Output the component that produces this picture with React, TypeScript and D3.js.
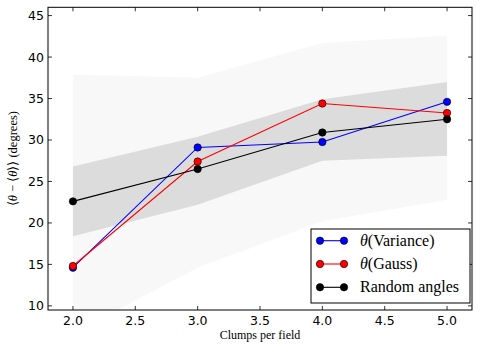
import React, { useRef, useEffect } from "react";
import * as d3 from "d3";

// clumps per field and the three measured series
const clumps = [2, 3, 4, 5];
const variance = [14.6, 29.1, 29.75, 34.6];
const gauss = [14.8, 27.4, 34.4, 33.25];
const randomAngles = [22.6, 26.5, 30.9, 32.5];

// spread of random angles (1 and 2 sigma)
const oneSigmaLow = [18.4, 22.2, 27.5, 28.1];
const oneSigmaHigh = [26.8, 30.4, 34.9, 37.0];
const twoSigmaLow = [6.7, 14.6, 20.2, 22.8];
const twoSigmaHigh = [37.9, 37.5, 41.7, 42.6];

const xTicks = [2.0, 2.5, 3.0, 3.5, 4.0, 4.5, 5.0];
const yTicks = [10, 15, 20, 25, 30, 35, 40, 45];

const series = [
  { name: "Variance", theta: true, values: variance, color: "#0000ff" },
  { name: "Gauss", theta: true, values: gauss, color: "#ff0000" },
  { name: "Random angles", theta: false, values: randomAngles, color: "#000000" },
];

const W = 480;
const H = 352;
const left = 48;
const right = 472;
const top = 7.3;
const bottom = 310;

const App = () => {
  const svgRef = useRef<SVGSVGElement>(null);

  useEffect(() => {
    const svg = d3.select(svgRef.current);
    svg.selectAll("*").remove();

    const x = d3.scaleLinear().domain([1.8, 5.2]).range([left, right]);
    const y = d3.scaleLinear().domain([9.5, 46]).range([bottom, top]);

    svg
      .append("defs")
      .append("clipPath")
      .attr("id", "plot-clip")
      .append("rect")
      .attr("x", left)
      .attr("y", top)
      .attr("width", right - left)
      .attr("height", bottom - top);

    const plot = svg.append("g").attr("clip-path", "url(#plot-clip)");

    const band = (lo: number[], hi: number[]) =>
      d3
        .area<number>()
        .x((d) => x(d))
        .y0((d, i) => y(lo[i]))
        .y1((d, i) => y(hi[i]))(clumps);

    plot.append("path").attr("d", band(twoSigmaLow, twoSigmaHigh)).attr("fill", "#f8f8f8");
    plot.append("path").attr("d", band(oneSigmaLow, oneSigmaHigh)).attr("fill", "#dcdcdc");

    const line = (vals: number[]) =>
      d3
        .line<number>()
        .x((d) => x(d))
        .y((d, i) => y(vals[i]))(clumps);

    series.forEach((s) => {
      plot
        .append("path")
        .attr("d", line(s.values))
        .attr("fill", "none")
        .attr("stroke", s.color)
        .attr("stroke-width", 1.1);
      plot
        .selectAll(null)
        .data(clumps)
        .join("circle")
        .attr("cx", (d) => x(d))
        .attr("cy", (d, i) => y(s.values[i]))
        .attr("r", 3.7)
        .attr("fill", s.color)
        .attr("stroke", "#000")
        .attr("stroke-width", 0.6);
    });

    // ticks inside on all four sides
    const ticks = svg.append("g").attr("stroke", "#000").attr("stroke-width", 0.8);
    xTicks.forEach((t) => {
      ticks.append("line").attr("x1", x(t)).attr("x2", x(t)).attr("y1", bottom).attr("y2", bottom - 4);
      ticks.append("line").attr("x1", x(t)).attr("x2", x(t)).attr("y1", top).attr("y2", top + 4);
    });
    yTicks.forEach((t) => {
      ticks.append("line").attr("x1", left).attr("x2", left + 4).attr("y1", y(t)).attr("y2", y(t));
      ticks.append("line").attr("x1", right).attr("x2", right - 4).attr("y1", y(t)).attr("y2", y(t));
    });

    svg
      .append("rect")
      .attr("x", left)
      .attr("y", top)
      .attr("width", right - left)
      .attr("height", bottom - top)
      .attr("fill", "none")
      .attr("stroke", "#000")
      .attr("stroke-width", 1);

    const tickFont = "'DejaVu Sans', sans-serif";
    svg
      .append("g")
      .selectAll("text")
      .data(xTicks)
      .join("text")
      .attr("x", (d) => x(d))
      .attr("y", bottom + 14.5)
      .attr("text-anchor", "middle")
      .attr("font-family", tickFont)
      .attr("font-size", 12.5)
      .text((d) => d.toFixed(1));

    svg
      .append("g")
      .selectAll("text")
      .data(yTicks)
      .join("text")
      .attr("x", left - 4)
      .attr("y", (d) => y(d) + 4.5)
      .attr("text-anchor", "end")
      .attr("font-family", tickFont)
      .attr("font-size", 12.5)
      .text((d) => d);

    const serif = "'Liberation Serif', serif";
    svg
      .append("text")
      .attr("x", (left + right) / 2)
      .attr("y", 339)
      .attr("text-anchor", "middle")
      .attr("font-family", serif)
      .attr("font-size", 12)
      .text("Clumps per field");

    const ylab = svg
      .append("text")
      .attr("transform", `translate(17,${(top + bottom) / 2}) rotate(-90)`)
      .attr("text-anchor", "middle")
      .attr("font-family", serif)
      .attr("font-size", 12.5);
    ylab.append("tspan").text("\u27E8");
    ylab.append("tspan").attr("font-style", "italic").text("\u03B8");
    ylab.append("tspan").text(" \u2212 \u27E8");
    ylab.append("tspan").attr("font-style", "italic").text("\u03B8");
    ylab.append("tspan").text("\u27E9\u27E9 (degrees)");

    // legend
    const lg = svg.append("g");
    lg.append("rect")
      .attr("x", 311)
      .attr("y", 229)
      .attr("width", 159)
      .attr("height", 74)
      .attr("fill", "#fff")
      .attr("stroke", "#000")
      .attr("stroke-width", 1);
    series.forEach((s, i) => {
      const ry = 240.7 + i * 23.3;
      lg.append("line")
        .attr("x1", 320)
        .attr("x2", 344)
        .attr("y1", ry)
        .attr("y2", ry)
        .attr("stroke", s.color)
        .attr("stroke-width", 1.1);
      [320, 344].forEach((cx) =>
        lg
          .append("circle")
          .attr("cx", cx)
          .attr("cy", ry)
          .attr("r", 3.7)
          .attr("fill", s.color)
          .attr("stroke", "#000")
          .attr("stroke-width", 0.6)
      );
      const t = lg
        .append("text")
        .attr("x", 360)
        .attr("y", ry + 5)
        .attr("font-family", serif)
        .attr("font-size", 16);
      if (s.theta) {
        t.append("tspan").attr("font-style", "italic").text("\u03B8");
        t.append("tspan").text(`(${s.name})`);
      } else {
        t.text(s.name);
      }
    });
  }, []);

  return (
    <svg
      ref={svgRef}
      width={W}
      height={H}
      style={{ position: "absolute", left: 0, top: 0, background: "#fff" }}
    />
  );
};

export default App;
